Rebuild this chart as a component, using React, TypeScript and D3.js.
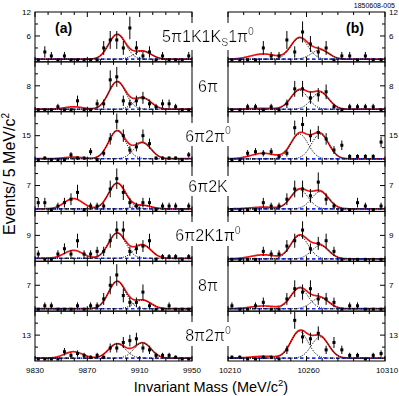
import React from 'react';
import * as d3 from 'd3';

// ---------------- data ----------------
const leftBins = [9832.5, 9837.5, 9842.5, 9847.5, 9852.5, 9857.5, 9862.5, 9867.5, 9872.5, 9877.5, 9882.5, 9887.5,
  9892.5, 9897.5, 9902.5, 9907.5, 9912.5, 9917.5, 9922.5, 9927.5, 9932.5, 9937.5, 9942.5, 9947.5];
const rightBins = [10212.5, 10217.5, 10222.5, 10227.5, 10232.5, 10237.5, 10242.5, 10247.5, 10252.5, 10257.5,
  10262.5, 10267.5, 10272.5, 10277.5, 10282.5, 10287.5, 10292.5, 10297.5, 10302.5, 10307.5];

const leftCounts5pi1K1Ks1pi0 = [0, 2, 1, 0, 1, 0, 0, 0, 0, 0, 3, 5, 5, 3, 8, 3, 1, 2, 0, 1, 0, 0, 0, 1];
const leftCounts6pi = [0, 0, 0, 1, 0, 0, 3, 0, 0, 2, 2, 10, 11, 3, 2, 3, 4, 2, 1, 2, 2, 1, 0, 0];
const leftCounts6pi2pi0 = [0, 1, 0, 0, 0, 3, 1, 1, 5, 0, 4, 13, 24, 15, 6, 8, 15, 10, 1, 1, 1, 1, 0, 3];
const leftCounts6pi2K = [2, 2, 0, 1, 2, 3, 5, 0, 1, 1, 1, 6, 9, 5, 2, 1, 2, 2, 0, 1, 1, 1, 0, 1];
const leftCounts6pi2K1pi0 = [2, 0, 0, 2, 4, 2, 7, 2, 2, 3, 3, 7, 11, 11, 3, 4, 5, 7, 0, 1, 1, 1, 0, 1];
const leftCounts8pi = [0, 1, 1, 0, 0, 0, 1, 0, 1, 1, 3, 7, 10, 4, 2, 2, 5, 1, 0, 0, 1, 0, 0, 0];
const leftCounts8pi2pi0 = [0, 0, 0, 0, 4, 2, 3, 2, 1, 2, 1, 6, 6, 9, 10, 11, 6, 5, 2, 2, 2, 1, 0, 0];

const rightCounts5pi1K1Ks1pi0 = [0, 0, 0, 0, 3, 1, 1, 5, 2, 7, 4, 2, 3, 0, 1, 1, 0, 1, 0, 0];
const rightCounts6pi = [0, 0, 1, 1, 0, 1, 0, 2, 7, 7, 4, 5, 6, 1, 0, 1, 1, 1, 1, 0];
const rightCounts6pi2pi0 = [0, 0, 4, 5, 4, 5, 2, 4, 20, 22, 15, 17, 13, 6, 9, 2, 2, 2, 2, 11];
const rightCounts6pi2K = [0, 0, 0, 0, 2, 1, 1, 3, 6, 6, 4, 8, 3, 1, 0, 0, 2, 1, 0, 1];
const rightCounts6pi2K1pi0 = [0, 0, 0, 0, 3, 2, 2, 5, 7, 11, 4, 6, 7, 3, 0, 0, 0, 0, 0, 0];
const rightCounts8pi = [1, 0, 0, 1, 2, 0, 0, 3, 6, 5, 6, 3, 3, 2, 0, 1, 1, 0, 0, 0];
const rightCounts8pi2pi0 = [1, 1, 0, 0, 1, 1, 0, 5, 21, 12, 11, 14, 5, 9, 5, 2, 2, 0, 2, 3];

const leftCounts = [leftCounts5pi1K1Ks1pi0, leftCounts6pi, leftCounts6pi2pi0, leftCounts6pi2K,
  leftCounts6pi2K1pi0, leftCounts8pi, leftCounts8pi2pi0];
const rightCounts = [rightCounts5pi1K1Ks1pi0, rightCounts6pi, rightCounts6pi2pi0, rightCounts6pi2K,
  rightCounts6pi2K1pi0, rightCounts8pi, rightCounts8pi2pi0];

// fit components: chi_b0, chi_b1, chi_b2 peak masses and widths
const leftPeakMass = [9859.4, 9892.8, 9912.2];
const leftPeakSigma = [7, 6.5, 6.5];
const rightPeakMass = [10232.5, 10255.5, 10268.7];
const rightPeakSigma = [8, 5.5, 5.5];

const leftAmp0 = [0, 0.8, 1, 3.0, 3.0, 0, 3.5];
const leftAmp1 = [6.2, 9.2, 17.5, 7.5, 9.5, 8.0, 7.8];
const leftAmp2 = [2.0, 3.8, 10, 1.0, 5, 2.5, 8.3];
const leftBg = [0.2, 0.2, 0.6, 0.2, 0.4, 0.15, 0.5];
const rightAmp0 = [1.3, 0.3, 3.5, 0.5, 1.5, 0.8, 1];
const rightAmp1 = [5.3, 6.3, 15.5, 5.6, 8.7, 6.0, 14.5];
const rightAmp2 = [2.3, 5.6, 15.5, 5.0, 5.0, 3.2, 11.5];
const rightBg = [0.2, 0.2, 0.5, 0.2, 0.2, 0.15, 0.5];

const rowYMax = [12, 16, 30, 14, 18, 14, 26];

const rowLabels: [string, string][][] = [
  [['5π1K1K', 'n'], ['S', 'sub'], ['1π', 'n'], ['0', 'sup']],
  [['6π', 'n']],
  [['6π2π', 'n'], ['0', 'sup']],
  [['6π2K', 'n']],
  [['6π2K1π', 'n'], ['0', 'sup']],
  [['8π', 'n']],
  [['8π2π', 'n'], ['0', 'sup']],
];

const leftDomain = [9830, 9950];
const rightDomain = [10210, 10310];
const leftTickLabels = [9830, 9870, 9910, 9950];
const rightTickLabels = [10210, 10260, 10310];

// ---------------- layout ----------------
const W = 399;
const H = 396;
const TOP = 12;
const BOTTOM = 361;
const NROWS = 7;
const ROWH = (BOTTOM - TOP) / NROWS;
const FONT = '"Liberation Sans", Arial, Helvetica, sans-serif';

type Panel = {
  id: string;
  x0: number;
  x1: number;
  domain: number[];
  bins: number[];
  counts: number[][];
  mass: number[];
  sigma: number[];
  amps: number[][];
  bg: number[];
  tickStep: number;
  tickLabels: number[];
  side: 'left' | 'right';
};

const panels: Panel[] = [
  {
    id: 'a', x0: 35, x1: 192, domain: leftDomain, bins: leftBins, counts: leftCounts,
    mass: leftPeakMass, sigma: leftPeakSigma, amps: [leftAmp0, leftAmp1, leftAmp2], bg: leftBg,
    tickStep: 10, tickLabels: leftTickLabels, side: 'left',
  },
  {
    id: 'b', x0: 228, x1: 385, domain: rightDomain, bins: rightBins, counts: rightCounts,
    mass: rightPeakMass, sigma: rightPeakSigma, amps: [rightAmp0, rightAmp1, rightAmp2], bg: rightBg,
    tickStep: 10, tickLabels: rightTickLabels, side: 'right',
  },
];

function gauss(m: number, mu: number, s: number) {
  return Math.exp(-((m - mu) * (m - mu)) / (2 * s * s));
}

function PanelRow({ p, r }: { p: Panel; r: number }) {
  const top = TOP + r * ROWH;
  const bottom = TOP + (r + 1) * ROWH;
  const ymax = rowYMax[r];
  const x = d3.scaleLinear().domain(p.domain).range([p.x0, p.x1]);
  const y = d3.scaleLinear().domain([-0.04 * ymax, ymax]).range([bottom, top]);
  const samples = d3.range(p.domain[0], p.domain[1] + 0.001, 0.5);
  const bg = p.bg[r];
  const total = (m: number) =>
    bg + p.amps.reduce((s, a, k) => s + a[r] * gauss(m, p.mass[k], p.sigma[k]), 0);
  const line = d3.line<number>().x((m) => x(m));
  const redPath = line.y((m) => y(total(m)))(samples) || '';
  const bluePath = d3.line<number>().x((m) => x(m)).y(() => y(bg))(samples) || '';
  const comp = (k: number) =>
    d3.line<number>().x((m) => x(m)).y((m) => y(bg + p.amps[k][r] * gauss(m, p.mass[k], p.sigma[k])))(samples) || '';
  const clipId = `clip-${p.id}-${r}`;

  // ticks
  const xt = d3.range(p.domain[0], p.domain[1] + 0.001, p.tickStep);
  const yt = [ymax / 4, ymax / 2, (3 * ymax) / 4];
  const axisX = p.side === 'left' ? p.x0 : p.x1;
  const dir = p.side === 'left' ? 1 : -1;

  return (
    <g>
      <clipPath id={clipId}>
        <rect x={p.x0} y={top} width={p.x1 - p.x0} height={bottom - top} />
      </clipPath>
      <g clipPath={`url(#${clipId})`}>
        <path d={redPath} fill="none" stroke="#ee1111" strokeWidth={1.7} />
        <path d={bluePath} fill="none" stroke="#2233ee" strokeWidth={1.6} strokeDasharray="3.5,2.5" />
        <path d={comp(1)} fill="none" stroke="#000" strokeWidth={1} strokeDasharray="1,1.2" />
        <path d={comp(2)} fill="none" stroke="#000" strokeWidth={1} strokeDasharray="1,1.2" />
        {p.counts[r].map((n, i) => {
          const e = Math.sqrt(n);
          return (
            <g key={i}>
              {n > 0 && (
                <line x1={x(p.bins[i])} x2={x(p.bins[i])} y1={y(n - e)} y2={y(n + e)} stroke="#000" strokeWidth={1} />
              )}
              <rect x={x(p.bins[i]) - 1.5} y={y(n) - 1.5} width={3} height={3} fill="#000" />
            </g>
          );
        })}
      </g>
      <rect x={p.x0} y={top} width={p.x1 - p.x0} height={bottom - top} fill="none" stroke="#000" strokeWidth={1} />
      {xt.map((v) => {
        const major = p.tickLabels.includes(v);
        const len = major ? 5 : 3;
        return (
          <g key={v}>
            <line x1={x(v)} x2={x(v)} y1={top} y2={top + len} stroke="#000" strokeWidth={1} />
            <line x1={x(v)} x2={x(v)} y1={bottom} y2={bottom - len} stroke="#000" strokeWidth={1} />
          </g>
        );
      })}
      {yt.map((v, i) => {
        const len = i === 1 ? 5 : 3;
        return (
          <line key={v} x1={axisX} x2={axisX + dir * len} y1={y(v)} y2={y(v)} stroke="#000" strokeWidth={1} />
        );
      })}
      <text
        x={p.side === 'left' ? axisX - 4 : axisX + 4}
        y={y(ymax / 2)}
        dy="0.35em"
        textAnchor={p.side === 'left' ? 'end' : 'start'}
        fontSize={8}
        fontFamily={FONT}
      >
        {ymax / 2}
      </text>
      {r === 0 && (
        <text
          x={p.side === 'left' ? axisX - 4 : axisX + 4}
          y={y(ymax)}
          dy="0.35em"
          textAnchor={p.side === 'left' ? 'end' : 'start'}
          fontSize={8}
          fontFamily={FONT}
        >
          {ymax}
        </text>
      )}
      {r === NROWS - 1 &&
        p.tickLabels.map((v) => (
          <text key={v} x={x(v) + (p.side === 'right' ? 2 : 0)} y={373} textAnchor="middle" fontSize={8} fontFamily={FONT}>
            {v}
          </text>
        ))}
    </g>
  );
}

export default function App() {
  return (
    <svg
      width={W}
      height={H}
      viewBox={`0 0 ${W} ${H}`}
      style={{ position: 'absolute', left: 0, top: 0, display: 'block', background: '#fff' }}
    >
      <defs>
        <filter id="whitebg" x="-0.04" y="-0.05" width="1.08" height="1.1">
          <feFlood floodColor="#ffffff" />
          <feComposite in="SourceGraphic" operator="over" />
        </filter>
      </defs>
      <rect x={0} y={0} width={W} height={H} fill="#fff" />
      {panels.map((p) =>
        d3.range(NROWS).map((r) => <PanelRow key={`${p.id}-${r}`} p={p} r={r} />)
      )}
      {rowLabels.map((parts, r) => (
        <text
          key={r}
          x={208}
          y={TOP + r * ROWH + 30}
          textAnchor="middle"
          fontSize={16}
          fontFamily={FONT}
          filter="url(#whitebg)"
        >
          {parts.map(([t, kind], i) => {
            if (kind === 'sub')
              return (
                <tspan key={i} fontSize={10.5} dy={4}>
                  {t}
                </tspan>
              );
            if (kind === 'sup')
              return (
                <tspan key={i} fontSize={10.5} dy={parts[i - 1][1] === 'sub' ? -12 : -7.5}>
                  {t}
                </tspan>
              );
            const prev = i > 0 ? parts[i - 1][1] : 'n';
            return (
              <tspan key={i} dy={prev === 'sub' ? -4 : prev === 'sup' ? 7.5 : 0}>
                {t}
              </tspan>
            );
          })}
        </text>
      ))}
      <text x={55} y={33} fontSize={14} fontWeight="bold" fontFamily={FONT}>
        (a)
      </text>
      <text x={346} y={33} fontSize={14} fontWeight="bold" fontFamily={FONT}>
        (b)
      </text>
      <text x={395} y={8} textAnchor="end" fontSize={7} fontFamily={FONT}>
        1850608-005
      </text>
      <text transform="translate(15,174) rotate(-90)" textAnchor="middle" fontSize={16} fontFamily={FONT}>
        Events/ 5 MeV/c<tspan fontSize={10} dy={-6}>2</tspan>
      </text>
      <text x={211} y={392} textAnchor="middle" fontSize={14.5} fontFamily={FONT}>
        Invariant Mass (MeV/c<tspan fontSize={9.5} dy={-6}>2</tspan>
        <tspan dy={6}>)</tspan>
      </text>
    </svg>
  );
}
